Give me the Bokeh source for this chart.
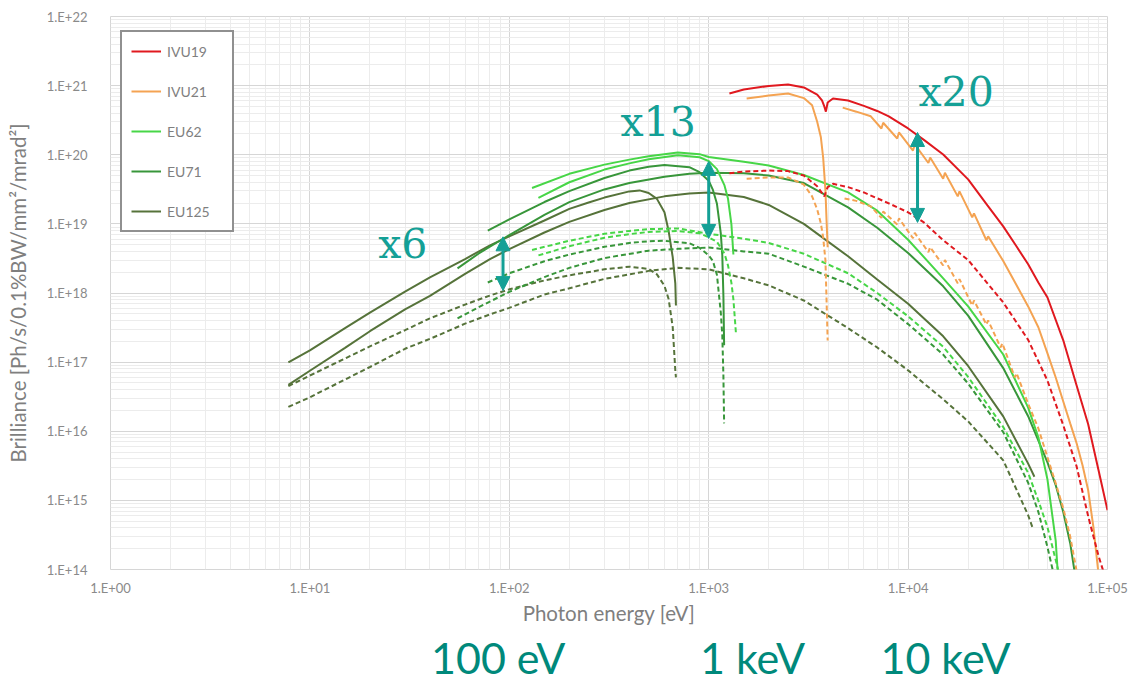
from bokeh.plotting import figure
from bokeh.models import (ColumnDataSource, Legend, LegendItem, CustomJSTickFormatter,
                          Arrow, NormalHead, LabelSet, LogAxis, FixedTicker)
from bokeh.core.properties import value
from bokeh.embed import file_html
from bokeh.resources import INLINE

# ---------------- brilliance curves: photon energy [eV] / brilliance ----------------
# IVU19
ivu19_upgrade_e = [1270, 1500, 2000, 2500, 3000, 3500, 3700, 3800, 3870, 3950, 4200, 5000, 6000,
                   7000, 8000, 10000, 12000, 15000, 20000, 25000, 30000, 35000, 40000, 45000,
                   50000, 60000, 70000, 80000, 90000, 100000]
ivu19_upgrade_b = [7.7e20, 8.8e20, 9.9e20, 1.04e21, 9.4e20, 7.4e20, 6.1e20, 5.0e20, 4.2e20, 5.7e20,
                   6.5e20, 6.1e20, 5.1e20, 4.3e20, 3.6e20, 2.4e20, 1.64e20, 1.01e20, 4.4e19, 1.85e19,
                   9.2e18, 4.7e18, 2.6e18, 1.42e18, 8.6e17, 2.07e17, 4.6e16, 1.26e16, 2.8e15, 7.2e14]
ivu19_present_e = [1270, 1500, 2000, 2500, 3000, 3500, 3800, 3950, 4200, 5000, 6000, 8000, 10000,
                   12000, 15000, 20000, 25000, 30000, 40000, 50000, 60000, 70000, 80000, 90000, 97000]
ivu19_present_b = [5.4e19, 5.7e19, 5.9e19, 5.8e19, 5.0e19, 3.5e19, 2.5e19, 3.4e19, 3.8e19, 3.4e19,
                   2.85e19, 1.98e19, 1.47e19, 1.05e19, 5.8e18, 3.0e18, 1.38e18, 7.3e17, 2.1e17,
                   5.4e16, 1.22e16, 3.1e15, 5.9e14, 1.6e14, 8e13]

# IVU21: fundamental branch with cut-off, and the higher-harmonic envelope
ivu21_cutoff_e = [1550, 2000, 2500, 3000, 3300, 3500, 3650, 3750, 3850, 3900, 3950]
ivu21_cutoff_upgrade_b = [6.5e20, 7.2e20, 7.7e20, 6.6e20, 5.2e20, 3.0e20, 1.81e20, 9.1e19, 3.05e19,
                          1.12e19, 4.6e18]
ivu21_cutoff_present_b = [4.5e19, 4.7e19, 4.7e19, 3.7e19, 2.5e19, 1.62e19, 1.02e19, 6.4e18, 2.96e18,
                          7.8e17, 2.06e17]
ivu21_envelope_upgrade_e = [4700, 5500, 6500, 7350, 7500, 8820, 9000, 10580, 10800, 12640, 12900,
                            14990, 15300, 17740, 18100, 20970, 21400, 24700, 25200, 30000, 35000,
                            40000, 45000, 50000, 55000, 60000, 65000, 70000, 75000, 80000, 85000, 90000]
ivu21_envelope_upgrade_b = [4.8e20, 4.2e20, 3.6e20, 2.4e20, 2.9e20, 1.72e20, 2.1e20, 1.15e20, 1.41e20,
                            7.6e19, 9.1e19, 4.5e19, 5.5e19, 2.5e19, 2.95e19, 1.24e19, 1.42e19, 5.8e18,
                            6.6e18, 2.9e18, 1.29e18, 6.4e17, 3.2e17, 1.34e17, 6.0e16, 2.7e16, 1.3e16,
                            6.7e15, 3.2e15, 1.4e15, 4.1e14, 9e13]
ivu21_envelope_present_e = [4800, 5500, 6500, 7350, 7500, 8820, 9000, 10580, 10800, 12640, 12900,
                            14990, 15300, 17740, 18100, 20970, 21400, 24700, 25200, 29100, 29700,
                            34300, 35000, 40000, 45000, 50000, 55000, 60000, 65000, 70000]
ivu21_envelope_present_b = [2.33e19, 2.15e19, 1.79e19, 1.22e19, 1.51e19, 9.8e18, 1.2e19, 6.2e18,
                            7.4e18, 3.9e18, 4.6e18, 2.5e18, 3.0e18, 1.38e18, 1.59e18, 6.6e17, 7.8e17,
                            3.5e17, 4.0e17, 1.63e17, 1.87e17, 6.0e16, 6.9e16, 2.5e16, 1.1e16, 4.2e15,
                            1.77e15, 7.7e14, 3.0e14, 9.5e13]

# EU62
eu62_cutoff_upgrade_e = [140, 200, 300, 400, 500, 700, 900, 1000, 1100, 1200, 1250, 1300, 1330]
eu62_cutoff_upgrade_b = [2.38e19, 4.0e19, 6.1e19, 7.5e19, 8.6e19, 9.8e19, 9.2e19, 8.1e19, 6.2e19,
                         3.6e19, 2.3e19, 9.8e18, 3.6e18]
eu62_cutoff_present_e = [140, 200, 300, 400, 500, 700, 900, 1000, 1100, 1200, 1250, 1300, 1330, 1370]
eu62_cutoff_present_b = [3.5e18, 4.75e18, 6.3e18, 7.1e18, 7.65e18, 7.9e18, 7.3e18, 6.4e18, 5.5e18,
                         3.7e18, 2.5e18, 1.4e18, 8.1e17, 2.6e17]
eu62_envelope_upgrade_e = [130, 200, 300, 400, 500, 700, 900, 1000, 1500, 2000, 3000, 5000, 7000,
                           10000, 15000, 20000, 30000, 40000, 45000, 50000, 55000, 56300]
eu62_envelope_upgrade_b = [3.3e19, 5.3e19, 7.2e19, 8.5e19, 9.5e19, 1.08e20, 1.02e20, 9.3e19, 7.9e19,
                           7.0e19, 5.1e19, 2.85e19, 1.55e19, 5.9e18, 1.63e18, 6.4e17, 1.29e17, 2.2e16,
                           8.2e15, 2.0e15, 2.6e14, 9e13]
eu62_envelope_present_e = [130, 200, 300, 400, 500, 700, 1000, 1500, 2000, 3000, 5000, 7000, 10000,
                           15000, 20000, 30000, 40000, 45000, 50000, 55000, 57000]
eu62_envelope_present_b = [4.2e18, 5.7e18, 7.2e18, 7.9e18, 8.4e18, 8.6e18, 7.2e18, 6.1e18, 5.3e18,
                           3.7e18, 1.93e18, 1.0e18, 4.6e17, 1.67e17, 6.1e16, 1.15e16, 2.5e15, 9.9e14,
                           4.1e14, 1.37e14, 9e13]

# EU71
eu71_cutoff_e = [78, 100, 150, 200, 300, 400, 500, 600, 800, 900, 1000, 1050, 1100, 1150, 1170,
                 1185, 1195]
eu71_cutoff_upgrade_b = [8.0e18, 1.16e19, 2.07e19, 2.98e19, 4.6e19, 5.9e19, 6.7e19, 7.1e19, 6.6e19,
                         5.6e19, 4.2e19, 3.1e19, 1.95e19, 7.3e18, 3.5e18, 9.2e17, 1.75e17]
eu71_cutoff_present_b = [1.42e18, 1.93e18, 2.88e18, 3.6e18, 4.66e18, 5.3e18, 5.6e18, 5.7e18, 5.25e18,
                         4.5e18, 3.5e18, 2.9e18, 1.82e18, 5.2e17, 2.44e17, 6.4e16, 1.3e16]
eu71_envelope_upgrade_e = [55, 70, 100, 150, 200, 300, 400, 600, 800, 1000, 1500, 2000, 3000, 5000,
                           7000, 10000, 15000, 20000, 30000, 40000, 50000, 55000, 60000, 65000, 68500]
eu71_envelope_upgrade_b = [2.27e18, 3.7e18, 6.9e18, 1.35e19, 2.06e19, 3.15e19, 3.9e19, 4.8e19, 5.3e19,
                           5.5e19, 5.4e19, 5.0e19, 3.9e19, 1.73e19, 8.8e18, 3.8e18, 1.25e18, 4.7e17,
                           8.2e16, 1.65e16, 3.55e15, 1.66e15, 6.8e14, 2.4e14, 9e13]
eu71_envelope_present_e = [55, 70, 100, 150, 200, 300, 500, 700, 1000, 1500, 2000, 3000, 5000, 7000,
                           10000, 15000, 20000, 30000, 40000, 45000, 50000, 53500]
eu71_envelope_present_b = [4.3e17, 6.2e17, 1.04e18, 1.7e18, 2.31e18, 3.2e18, 4.1e18, 4.35e18, 4.55e18,
                           4.0e18, 3.7e18, 2.41e18, 1.36e18, 8.0e17, 3.55e17, 1.28e17, 4.9e16, 9.7e15,
                           1.8e15, 6.8e14, 2.1e14, 9e13]

# EU125
eu125_cutoff_upgrade_e = [7.8, 10, 15, 20, 30, 40, 60, 80, 100, 150, 200, 250, 300, 400, 450, 500,
                          550, 600, 630, 660, 680, 685]
eu125_cutoff_upgrade_b = [9.9e16, 1.48e17, 3.1e17, 5.2e17, 1.05e18, 1.68e18, 3.1e18, 4.9e18, 6.6e18,
                          1.12e19, 1.65e19, 2.04e19, 2.4e19, 2.95e19, 3.05e19, 2.8e19, 2.3e19, 1.47e19,
                          7.8e18, 3.3e18, 1.38e18, 6.6e17]
eu125_cutoff_present_e = [7.8, 10, 15, 20, 30, 40, 60, 80, 100, 150, 200, 300, 400, 500, 550, 600,
                          630, 660, 680, 685]
eu125_cutoff_present_b = [4.5e16, 6.4e16, 1.13e17, 1.69e17, 2.9e17, 4.3e17, 6.8e17, 9.2e17, 1.13e18,
                          1.52e18, 1.8e18, 2.2e18, 2.4e18, 2.23e18, 1.86e18, 1.27e18, 8.1e17, 3.2e17,
                          7.6e16, 6.0e16]
eu125_envelope_upgrade_e = [7.8, 10, 15, 20, 30, 40, 60, 80, 100, 150, 200, 300, 400, 600, 800, 1000,
                            1500, 2000, 3000, 5000, 7000, 10000, 15000, 20000, 30000, 40000, 43000]
eu125_envelope_upgrade_b = [4.7e16, 7.5e16, 1.61e17, 2.8e17, 5.8e17, 9.1e17, 1.89e18, 3.1e18, 4.3e18,
                            7.5e18, 1.07e19, 1.59e19, 2.0e19, 2.5e19, 2.76e19, 2.85e19, 2.45e19,
                            1.88e19, 1.0e19, 3.4e18, 1.57e18, 7.0e17, 2.36e17, 8.8e16, 1.64e16,
                            3.4e15, 2.2e15]
eu125_envelope_present_e = [7.8, 10, 15, 20, 30, 40, 60, 80, 100, 150, 200, 300, 500, 700, 1000,
                            1500, 2000, 3000, 5000, 7000, 10000, 15000, 20000, 30000, 40000, 42000]
eu125_envelope_present_b = [2.25e16, 3.1e16, 5.6e16, 8.5e16, 1.56e17, 2.17e17, 3.6e17, 4.9e17,
                            6.1e17, 9.5e17, 1.17e18, 1.6e18, 2.09e18, 2.31e18, 2.2e18, 1.63e18,
                            1.29e18, 7.8e17, 3.1e17, 1.63e17, 7.6e16, 2.9e16, 1.39e16, 3.8e15,
                            6.1e14, 4.1e14]

# gain markers: energy, upper brilliance, gain factor
gain_energy = [93, 1000, 11150]
gain_upper = [6.5e18, 8.0e19, 2.1e20]
gain_factor = [6, 13, 20]

# energy band captions under the axis
band_text = ["100 eV", "1 keV", "10 keV"]

# ---------------------------------------------------------------------------------
C_IVU19 = "#e0191f"
C_IVU21 = "#f4a352"
C_EU62 = "#47d647"
C_EU71 = "#38963a"
C_EU125 = "#56733a"
TEAL = "#14a096"
TEAL_DARK = "#00897b"
GREY = "#7f7f7f"

p = figure(width=1132, height=686, x_axis_type="log", y_axis_type="log",
           x_range=(1, 1e5), y_range=(1e14, 1e22), output_backend="svg",
           toolbar_location=None, min_border_left=110, min_border_right=25,
           min_border_top=16, min_border_bottom=117)
p.background_fill_color = "white"
p.border_fill_color = "white"
p.outline_line_color = "#d6d6d6"

for g in (p.xgrid, p.ygrid):
    g.grid_line_color = "#d6d6d6"
    g.minor_grid_line_color = "#ececec"

fmt = CustomJSTickFormatter(code="""
const e = Math.round(Math.log10(tick));
return "1.E+" + (e < 10 ? "0" + e : "" + e);
""")
for ax in (p.xaxis[0], p.yaxis[0]):
    ax.formatter = fmt
    ax.axis_line_color = None
    ax.major_tick_line_color = None
    ax.minor_tick_line_color = None
    ax.major_label_text_font = "Lato"
    ax.major_label_text_font_size = "13px"
    ax.major_label_text_color = "#8a8a8a"
    ax.axis_label_text_font = "Lato"
    ax.axis_label_text_font_size = "20.5px"
    ax.axis_label_text_font_style = "normal"
    ax.axis_label_text_color = GREY

p.xaxis.axis_label = "Photon energy [eV]"
p.xaxis.major_tick_out = 0
p.xaxis.minor_tick_out = 0
p.xaxis.major_label_standoff = 10
p.xaxis.axis_label_standoff = 2
p.yaxis.axis_label = "Brilliance [Ph/s/0.1%BW/mm²/mrad²]"
p.yaxis.major_label_standoff = 17
p.yaxis.axis_label_standoff = 14

# second row of captions below the energy axis
band_axis = LogAxis(ticker=FixedTicker(ticks=[88, 1660, 15400], minor_ticks=[]),
                    formatter=CustomJSTickFormatter(args=dict(labels=band_text),
                                                    code="return labels[index];"),
                    axis_line_color=None, major_tick_line_color=None,
                    minor_tick_line_color=None, major_tick_out=0, major_tick_in=0,
                    minor_tick_out=0, minor_tick_in=0, major_label_standoff=4,
                    major_label_text_font="Lato", major_label_text_font_size="43px",
                    major_label_text_color=TEAL_DARK)
p.add_layout(band_axis, "below")


def curve(e, b, color, dashed=False):
    src = ColumnDataSource(dict(e=e, b=b))
    return p.line("e", "b", source=src, line_color=color, line_width=2,
                  line_dash="5 3" if dashed else "solid")


# EU125
r_eu125 = curve(eu125_envelope_upgrade_e, eu125_envelope_upgrade_b, C_EU125)
curve(eu125_cutoff_upgrade_e, eu125_cutoff_upgrade_b, C_EU125)
curve(eu125_envelope_present_e, eu125_envelope_present_b, C_EU125, True)
curve(eu125_cutoff_present_e, eu125_cutoff_present_b, C_EU125, True)
# EU71
r_eu71 = curve(eu71_envelope_upgrade_e, eu71_envelope_upgrade_b, C_EU71)
curve(eu71_cutoff_e, eu71_cutoff_upgrade_b, C_EU71)
curve(eu71_envelope_present_e, eu71_envelope_present_b, C_EU71, True)
curve(eu71_cutoff_e, eu71_cutoff_present_b, C_EU71, True)
# EU62
r_eu62 = curve(eu62_envelope_upgrade_e, eu62_envelope_upgrade_b, C_EU62)
curve(eu62_cutoff_upgrade_e, eu62_cutoff_upgrade_b, C_EU62)
curve(eu62_envelope_present_e, eu62_envelope_present_b, C_EU62, True)
curve(eu62_cutoff_present_e, eu62_cutoff_present_b, C_EU62, True)
# IVU21
r_ivu21 = curve(ivu21_cutoff_e, ivu21_cutoff_upgrade_b, C_IVU21)
curve(ivu21_envelope_upgrade_e, ivu21_envelope_upgrade_b, C_IVU21)
curve(ivu21_cutoff_e, ivu21_cutoff_present_b, C_IVU21, True)
curve(ivu21_envelope_present_e, ivu21_envelope_present_b, C_IVU21, True)
# IVU19
r_ivu19 = curve(ivu19_upgrade_e, ivu19_upgrade_b, C_IVU19)
curve(ivu19_present_e, ivu19_present_b, C_IVU19, True)

# legend box sits 10 px in from the left edge and 19 px down from the top of the frame
legend = Legend(items=[LegendItem(label="IVU19", renderers=[r_ivu19]),
                       LegendItem(label="IVU21", renderers=[r_ivu21]),
                       LegendItem(label="EU62", renderers=[r_eu62]),
                       LegendItem(label="EU71", renderers=[r_eu71]),
                       LegendItem(label="EU125", renderers=[r_eu125])],
                location=(10, 553 - 19 - 197), margin=0, padding=9, spacing=20,
                glyph_width=30, glyph_height=20, label_height=20, label_width=56,
                label_standoff=6, border_line_color="#222222", border_line_width=2,
                background_fill_color="white", background_fill_alpha=1.0,
                label_text_font="Lato", label_text_font_size="14px", label_text_color=GREY)
p.add_layout(legend)

# gain arrows between present and upgraded brilliance
gain_lower = [u / f for u, f in zip(gain_upper, gain_factor)]
gain_src = ColumnDataSource(dict(e=gain_energy, lo=gain_lower, hi=gain_upper))
p.add_layout(Arrow(start=NormalHead(size=14, fill_color=TEAL, line_color=TEAL),
                   end=NormalHead(size=14, fill_color=TEAL, line_color=TEAL),
                   x_start="e", y_start="lo", x_end="e", y_end="hi", source=gain_src,
                   line_color=TEAL, line_width=3))

gain_label_src = ColumnDataSource(dict(
    text=["x%d" % f for f in gain_factor],
    e=[22, 361, 11270], b=[3.2e18, 1.84e20, 5.0e20]))
p.add_layout(LabelSet(x="e", y="b", text="text", source=gain_label_src,
                      text_font=value("DejaVu Serif"), text_font_size="41px",
                      text_color=TEAL, text_align="left", text_baseline="alphabetic"))

open("out.html", "w").write(file_html(p, INLINE))
